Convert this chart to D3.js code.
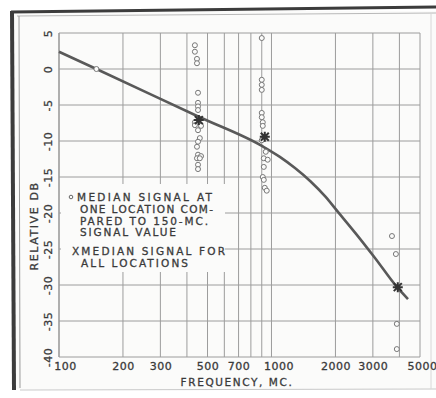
<!DOCTYPE html>
<html><head><meta charset="utf-8">
<script src="https://cdn.jsdelivr.net/npm/d3@7"></script>
<style>
html,body{margin:0;padding:0;background:#fff;}
svg{display:block;}
text{font-family:"DejaVu Sans",sans-serif;fill:#3a3a3a;stroke:#3a3a3a;stroke-width:0.3px;}
</style></head>
<body>
<script>
// ---- data ----
const xTickLabels = [100, 200, 300, 500, 700, 1000, 2000, 3000, 5000];
const xGridFreqs = [100, 200, 300, 400, 500, 600, 700, 800, 900, 1000, 2000, 3000, 4000, 5000];
const yTicks = [5, 0, -5, -10, -15, -20, -25, -30, -35, -40];

// median curve (frequency MC, relative dB)
const curveFreq = [100, 150, 460, 910, 1095, 1290, 1520, 1790, 2055, 2500, 3070, 3900, 4390];
const curveDb   = [2.4, 0, -6.7, -10.75, -12.2, -13.75, -15.55, -17.7, -19.85, -22.9, -26.25, -30.3, -31.95];

// median signal at one location (circles)
const circleFreq = [150,
  436, 436, 446, 446, 451, 451, 451, 451, 436, 436, 466, 451, 460, 451, 446, 451, 466, 446, 460, 451, 451,
  900, 900, 900, 900, 900, 900, 910, 910, 900, 940, 920, 960, 920, 910, 920, 930, 950,
  3690, 3850, 3890, 3890];
const circleDb = [0,
  3.3, 2.4, 1.4, 0.8, -3.3, -4.7, -5.2, -5.7, -7.4, -7.8, -7.9, -8.5, -9.6, -10.1, -10.8, -11.9, -12.1, -12.4, -12.4, -13.3, -13.9,
  4.3, -1.5, -2.2, -2.9, -6.1, -6.7, -7.4, -7.9, -9.9, -11.5, -12.4, -12.6, -13.6, -15.0, -15.4, -16.5, -16.9,
  -23.2, -25.7, -35.4, -38.9];

// median signal for all locations (X marks)
const xMarkFreq = [455, 930, 3930];
const xMarkDb = [-7.1, -9.4, -30.3];

const legendLines1 = ["MEDIAN SIGNAL AT", "ONE LOCATION COM-", "PARED TO 150-MC.", "SIGNAL VALUE"];
const legendLines2 = ["XMEDIAN SIGNAL FOR", "ALL LOCATIONS"];

// ---- drawing ----
const W = 436, H = 398;
const svg = d3.select("body").append("svg").attr("width", W).attr("height", H);

svg.append("rect").attr("x", 0).attr("y", 0).attr("width", W).attr("height", H).attr("fill", "#ffffff");
svg.append("rect").attr("x", 13).attr("y", 11).attr("width", W - 13).attr("height", 378).attr("fill", "#fbfbfa");

// page frame (scanned border)
svg.append("line").attr("x1", 11).attr("y1", 12).attr("x2", W).attr("y2", 7)
  .attr("stroke", "#3c3c3c").attr("stroke-width", 3);
svg.append("line").attr("x1", 12).attr("y1", 11).attr("x2", 14).attr("y2", 390)
  .attr("stroke", "#3c3c3c").attr("stroke-width", 4);
svg.append("line").attr("x1", 17).attr("y1", 16).attr("x2", W).attr("y2", 13)
  .attr("stroke", "#b8b8b8").attr("stroke-width", 1);
svg.append("line").attr("x1", 19).attr("y1", 16).attr("x2", 20).attr("y2", 388)
  .attr("stroke", "#9a9a9a").attr("stroke-width", 1);
svg.append("line").attr("x1", 20).attr("y1", 390).attr("x2", W).attr("y2", 389)
  .attr("stroke", "#c8c8c8").attr("stroke-width", 1);
svg.append("line").attr("x1", 431).attr("y1", 14).attr("x2", 431).attr("y2", 389)
  .attr("stroke", "#d8d8d8").attr("stroke-width", 1);

const x = d3.scaleLog().domain([100, 5000]).range([59, 420]);
const y = d3.scaleLinear().domain([-40, 5]).range([357, 33]);

const gridColor = "#9c9c9c";
// grid
const g = svg.append("g");
g.selectAll("line.v").data(xGridFreqs).enter().append("line")
  .attr("x1", d => x(d)).attr("x2", d => x(d)).attr("y1", y(5)).attr("y2", y(-40))
  .attr("stroke", gridColor).attr("stroke-width", 1);
g.selectAll("line.h").data(yTicks).enter().append("line")
  .attr("x1", x(100)).attr("x2", x(5000)).attr("y1", d => y(d)).attr("y2", d => y(d))
  .attr("stroke", gridColor).attr("stroke-width", 1);

// legend box masks grid
svg.append("rect").attr("x", x(100) + 2).attr("y", 184).attr("width", 164).attr("height", 88)
  .attr("fill", "#fbfbfa");
svg.append("line").attr("x1", x(100)).attr("x2", x(100)).attr("y1", y(5)).attr("y2", y(-40))
  .attr("stroke", gridColor).attr("stroke-width", 1.2);

// axes labels via d3 axes (styled)
const xAxis = d3.axisBottom(x).tickValues(xTickLabels).tickFormat(d3.format("d")).tickSize(0).tickPadding(5);
const xa = svg.append("g").attr("transform", `translate(0,${y(-40)})`).call(xAxis);
xa.select(".domain").remove();
xa.selectAll("text").attr("font-size", 11).attr("font-family", "DejaVu Sans").attr("fill", "#3a3a3a")
  .attr("letter-spacing", 0.5).attr("dx", (d) => d === 100 ? 6 : (d === 1000 ? 7 : (d === 5000 ? 2 : 0)));

const yAxis = d3.axisLeft(y).tickValues(yTicks).tickFormat(d => d === 0 ? "0" : String(d)).tickSize(0);
const ya = svg.append("g").attr("transform", `translate(${x(100)},0)`).call(yAxis);
ya.select(".domain").remove();
ya.selectAll("text").attr("x", 0).attr("y", 0).attr("dy", "0.35em")
  .attr("text-anchor", "middle")
  .attr("transform", "translate(-11,0) rotate(-90)")
  .attr("font-size", 11).attr("font-family", "DejaVu Sans").attr("fill", "#3a3a3a")
  .attr("letter-spacing", 0.5);

svg.append("text").attr("transform", "translate(38,226) rotate(-90)")
  .attr("text-anchor", "middle").attr("font-size", 11).attr("letter-spacing", 1.6)
  .text("RELATIVE DB");
svg.append("text").attr("x", 237).attr("y", 386).attr("text-anchor", "middle")
  .attr("font-size", 10.5).attr("letter-spacing", 1.6).text("FREQUENCY, MC.");

// curve
const line = d3.line().x(d => x(d[0])).y(d => y(d[1])).curve(d3.curveMonotoneX);
svg.append("path").datum(curveFreq.map((f, i) => [f, curveDb[i]]))
  .attr("d", line).attr("fill", "none").attr("stroke", "#595959").attr("stroke-width", 2.6);

// circles
svg.selectAll("circle.pt").data(circleFreq.map((f, i) => [f, circleDb[i]])).enter().append("circle")
  .attr("cx", d => x(d[0])).attr("cy", d => y(d[1])).attr("r", 2.5)
  .attr("fill", "#fbfbfa").attr("stroke", "#777").attr("stroke-width", 1);

// X marks
const xm = svg.selectAll("g.xm").data(xMarkFreq.map((f, i) => [f, xMarkDb[i]])).enter().append("g")
  .attr("transform", d => `translate(${x(d[0])},${y(d[1])})`);
xm.append("path").attr("d", "M-4,-4L4,4M-4,4L4,-4M0,-5L0,5M-5,0L5,0")
  .attr("stroke", "#333").attr("stroke-width", 2);

// legend
svg.append("circle").attr("cx", 71).attr("cy", 197).attr("r", 1.8)
  .attr("fill", "#fbfbfa").attr("stroke", "#666").attr("stroke-width", 1);
const lg1X = [77, 80, 80, 80];
const lg1Len = [135, 133, 128, 96];
legendLines1.forEach((t, i) => {
  svg.append("text").attr("x", lg1X[i]).attr("y", 201 + i * 11.8)
    .attr("font-size", 10.5).attr("textLength", lg1Len[i]).attr("lengthAdjust", "spacing").text(t);
});
const lg2X = [72, 81];
const lg2Len = [153, 107];
legendLines2.forEach((t, i) => {
  svg.append("text").attr("x", lg2X[i]).attr("y", 255 + i * 12)
    .attr("font-size", 10.5).attr("textLength", lg2Len[i]).attr("lengthAdjust", "spacing").text(t);
});
</script>
</body></html>
